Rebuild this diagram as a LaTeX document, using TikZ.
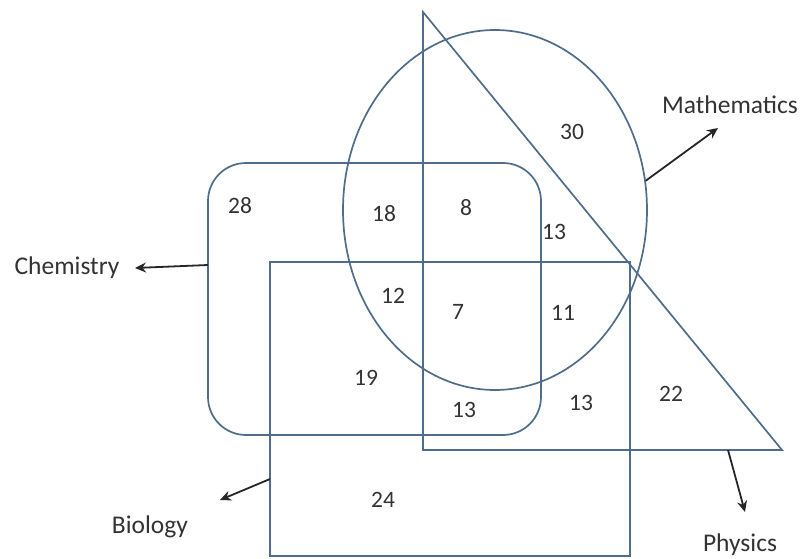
\documentclass[tikz,border=0pt]{standalone}
\usepackage{fontspec}
\setmainfont{Carlito}
\usetikzlibrary{shapes.geometric,arrows.meta}
\definecolor{setline}{HTML}{4F6D8A}
\definecolor{txt}{HTML}{333333}
\begin{document}
\begin{tikzpicture}[x=1pt,y=-1pt,
  setedge/.style={draw=setline,line width=1.7pt},
  num/.style={text=txt,font=\fontsize{23.5}{27}\selectfont,inner sep=0pt},
  lbl/.style={text=txt,font=\fontsize{25.5}{29}\selectfont,inner sep=0pt},
  ptr/.style={draw=black!85,line width=1.8pt,-{Stealth[length=11pt,width=10pt]}}]
\useasboundingbox (0,0) rectangle (803,559);
% Chemistry (rounded rectangle)
\node[setedge,rounded corners=38pt,minimum width=333pt,minimum height=272pt,inner sep=0pt] (chem) at (374.5,299) {};
% Biology (rectangle)
\node[setedge,minimum width=360pt,minimum height=294pt,inner sep=0pt] (bio) at (450,409) {};
% Mathematics (ellipse)
\node[setedge,ellipse,minimum width=304pt,minimum height=360pt,inner sep=0pt] (ell) at (495,210) {};
% Physics (triangle)
\coordinate (pa) at (423,12);
\coordinate (pb) at (423,450);
\coordinate (pc) at (782,450);
\draw[setedge,line join=miter] (pa) -- (pb) -- (pc) -- cycle;
% numbers
\node[num] (n30) at (572,132) {30};
\node[num] (n28) at (240,206) {28};
\node[num] (n18) at (384,214) {18};
\node[num] (n8) at (466,208) {8};
\node[num] (n13a) at (554,232) {13};
\node[num] (n12) at (393,296) {12};
\node[num] (n7) at (458,312) {7};
\node[num] (n11) at (563,313) {11};
\node[num] (n19) at (366,378) {19};
\node[num] (n13b) at (464,410) {13};
\node[num] (n13c) at (581,403) {13};
\node[num] (n22) at (671,394) {22};
\node[num] (n24) at (383,500) {24};
% labels
\node[lbl] (lmath) at (730,105) {Mathematics};
\node[lbl] (lchem) at (67,268) {Chemistry};
\node[lbl] (lphys) at (740,545) {Physics};
\node[lbl] (lbio) at (150,527) {Biology};
% arrows
\coordinate (cs) at (208,265);
\coordinate (ce) at (135,268);
\draw[ptr] (cs) -- (ce);
\coordinate (me) at (718,128);
\draw[ptr] (ell.11) -- (me);
\coordinate (ps) at (728,450);
\coordinate (pe) at (745,512);
\draw[ptr] (ps) -- (pe);
\coordinate (bs) at (270,479);
\coordinate (be) at (220,500);
\draw[ptr] (bs) -- (be);
\end{tikzpicture}
\end{document}
